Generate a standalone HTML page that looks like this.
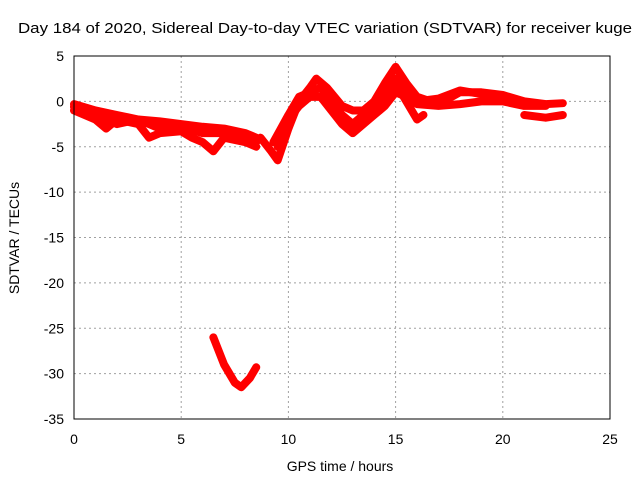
<!DOCTYPE html>
<html><head><meta charset="utf-8"><style>
body{margin:0;background:#fff;}
svg text{font-family:"Liberation Sans",sans-serif;font-size:14px;fill:#000;}
</style></head><body>
<svg id="chart" width="640" height="480" xmlns="http://www.w3.org/2000/svg">
<rect width="640" height="480" fill="#fff"/>
<text x="18" y="33" textLength="614" lengthAdjust="spacingAndGlyphs" style="font-size:15px">Day 184 of 2020, Sidereal Day-to-day VTEC variation (SDTVAR) for receiver kuge</text>
<g id="grid"></g>
<g id="series"></g>
<rect x="74" y="56" width="536" height="363" fill="none" stroke="#000" stroke-width="1"/>
<g id="ticks"></g>
<text x="340" y="471" text-anchor="middle">GPS time / hours</text>
<text transform="translate(19,238) rotate(-90)" text-anchor="middle">SDTVAR / TECUs</text>
</svg>
<script>
const xTicks=[0,5,10,15,20,25];
const yTicks=[5,0,-5,-10,-15,-20,-25,-30,-35];
const traceA=[[0,-0.3],[1,-1],[2,-1.5],[3,-2],[4,-2.2],[5,-2.5],[6,-2.8],[7,-3],[8,-3.5],[8.5,-4]];
const traceB=[[0,-1],[1,-2],[1.5,-3],[2,-2],[3,-2.5],[3.5,-4],[4,-3.5],[5,-3.3],[5.5,-4],[6,-4.5],[6.5,-5.5],[7,-4],[8,-4.5],[8.5,-5]];
const traceH=[[0,-0.6],[1,-1.5],[2,-2.5],[3,-2],[4,-3],[5,-2.8],[6,-3.5],[7,-3.5],[8,-4],[8.5,-4.5]];
const traceC=[[8.7,-4],[9.2,-5.5],[9.5,-6.5],[10,-3],[10.5,0],[11,1.5],[11.3,2.5],[11.8,1.5],[12.5,-0.5],[13,-1],[13.5,-1],[14,0],[14.5,2],[15,3.8],[15.5,2],[16,0.5],[17,-0.3],[18,1],[19,1],[20,0.7],[21,0],[22,-0.3],[22.8,-0.2]];
const traceD=[[9.5,-5],[10,-2],[10.5,-0.5],[11,0.5],[11.5,0.5],[12,-1],[12.5,-2.5],[13,-3.5],[13.5,-2.5],[14,-1.5],[14.5,-0.5],[15,1],[15.5,0.5],[16,-0.3],[17,-0.5],[18,-0.3],[19,0],[20,0],[21,-0.5],[22,-0.5]];
const traceI=[[9.3,-4.5],[10,-1.5],[10.5,0.5],[11,1],[11.5,1.5],[12,0],[12.5,-1.5],[13,-2.5],[13.5,-1.5],[14,-0.5],[14.5,1],[15,2.5],[15.5,1.2],[16,0],[17,0.3],[18,1.2],[19,0.8],[20,0.3],[21,-0.2]];
const traceE=[[14,-0.5],[15,2],[15.5,0],[16,-2],[16.3,-1.5]];
const traceF=[[21,-1.5],[22,-1.8],[22.8,-1.5]];
const traceG=[[6.5,-26],[7,-29],[7.5,-31],[7.8,-31.5],[8.2,-30.5],[8.5,-29.3]];
const traces=[traceA,traceB,traceH,traceC,traceD,traceI,traceE,traceF,traceG];
const X=v=>74+v*(536/25), Y=v=>56+(5-v)*(363/40);
const NS="http://www.w3.org/2000/svg";
const grid=document.getElementById('grid'),ticks=document.getElementById('ticks'),ser=document.getElementById('series');
function mk(tag,at,p){const e=document.createElementNS(NS,tag);for(const k in at)e.setAttribute(k,at[k]);p.appendChild(e);return e;}
xTicks.forEach(t=>{
 if(t>0&&t<25){const g=mk('line',{x1:X(t),x2:X(t),y1:56,y2:419,stroke:'#a0a0a0','stroke-dasharray':'2,3'},grid);
 
 }
 const l=mk('text',{x:X(t),y:444,'text-anchor':'middle'},ticks);l.textContent=t;
 
 
});
yTicks.forEach(t=>{
 if(t<5&&t>-35){const g=mk('line',{x1:74,x2:610,y1:Y(t),y2:Y(t),stroke:'#a0a0a0','stroke-dasharray':'2,3'},grid);
 
 }
 const l=mk('text',{x:64,y:Y(t)+5,'text-anchor':'end'},ticks);l.textContent=t;
 
 
});
traces.forEach(tr=>{
 const p=mk('polyline',{points:tr.map(d=>X(d[0])+','+Y(d[1])).join(' '),fill:'none',stroke:'#ff0000','stroke-width':8,'stroke-linejoin':'round','stroke-linecap':'round'},ser);
 
 
});
</script>
</body></html>
